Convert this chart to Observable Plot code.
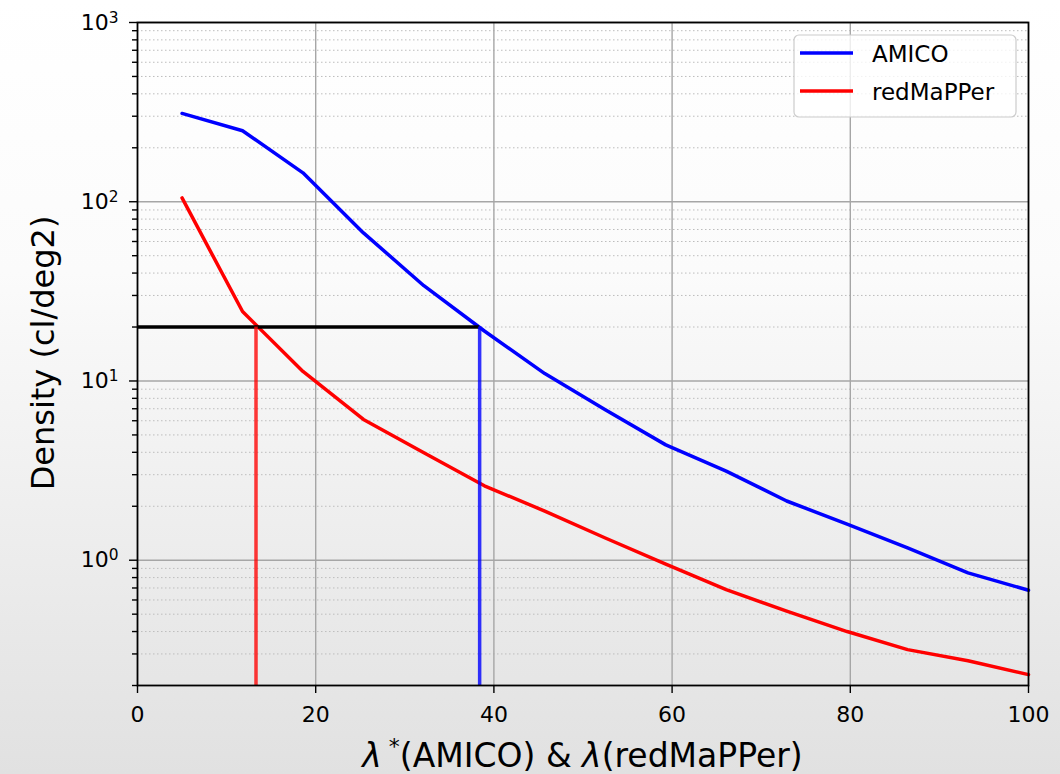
<!DOCTYPE html>
<html>
<head>
<meta charset="utf-8">
<script src="https://cdn.jsdelivr.net/npm/d3@7"></script>
<script src="https://cdn.jsdelivr.net/npm/@observablehq/plot@0.6"></script>
<style>
html, body { margin: 0; padding: 0; }
body {
  width: 1060px; height: 774px; overflow: hidden;
  background: linear-gradient(to bottom, #ffffff 0%, #fbfbfb 35%, #e1e1e1 100%);
  font-family: "DejaVu Sans", sans-serif;
}
svg { display: block; }
</style>
</head>
<body>
<div id="chart"></div>
<script>
// ---- data ----
const lambdaX = [5, 11.79, 18.57, 25.36, 32.14, 38.93, 45.71, 52.5, 59.29, 66.07, 72.86, 79.64, 86.43, 93.21, 100];
const amicoDensity = [311, 249, 145, 67, 34, 19.0, 11.0, 6.9, 4.4, 3.14, 2.14, 1.59, 1.17, 0.85, 0.68];
const redmapperDensity = [105, 24.4, 11.3, 6.1, 3.98, 2.6, 1.88, 1.33, 0.95, 0.686, 0.52, 0.40, 0.317, 0.275, 0.23];
const seriesNames = ["AMICO", "redMaPPer"];
const seriesColors = ["#0000ff", "#ff0000"];
const thresholdDensity = 20;
const amicoCut = 38.4;
const redmapperCut = 13.3;
const xTicks = [0, 20, 40, 60, 80, 100];
const xGridTicks = [20, 40, 60, 80];
const yMajorTicks = [1, 10, 100, 1000];
const yMinorTicks = [0.2, 0.3, 0.4, 0.5, 0.6, 0.7, 0.8, 0.9,
                     2, 3, 4, 5, 6, 7, 8, 9,
                     20, 30, 40, 50, 60, 70, 80, 90,
                     200, 300, 400, 500, 600, 700, 800, 900];
const yDomain = [0.2, 1000];
const xDomain = [0, 100];
const xLabelParts = ["λ", "*", "(AMICO) & ", "λ", "(redMaPPer)"];
const yLabel = "Density (cl/deg2)";

const rows = [];
lambdaX.forEach((x, i) => rows.push({x, y: amicoDensity[i], series: seriesNames[0]}));
lambdaX.forEach((x, i) => rows.push({x, y: redmapperDensity[i], series: seriesNames[1]}));

const plot = Plot.plot({
  width: 1060,
  height: 774,
  marginLeft: 137,
  marginRight: 32,
  marginTop: 22,
  marginBottom: 89,
  style: {background: "transparent", fontFamily: "DejaVu Sans, sans-serif", fontSize: "22px", color: "#000", overflow: "visible"},
  x: {domain: xDomain},
  y: {type: "log", domain: yDomain},
  color: {domain: seriesNames, range: seriesColors},
  marks: [
    Plot.gridY(yMinorTicks, {stroke: "#bdbdbd", strokeOpacity: 1, strokeWidth: 1, strokeDasharray: "1.5,2.5"}),
    Plot.gridY(yMajorTicks, {stroke: "#a6a6a6", strokeOpacity: 1, strokeWidth: 1.4}),
    Plot.gridX(xGridTicks, {stroke: "#a6a6a6", strokeOpacity: 1, strokeWidth: 1.4}),
    Plot.line(rows, {x: "x", y: "y", z: "series", stroke: "series", strokeWidth: 3.5}),
    Plot.ruleY([thresholdDensity], {x1: xDomain[0], x2: amicoCut, stroke: "#000", strokeWidth: 3.5}),
    Plot.ruleX([redmapperCut], {y1: thresholdDensity, y2: yDomain[0], stroke: seriesColors[1], strokeOpacity: 0.78, strokeWidth: 3.5}),
    Plot.ruleX([amicoCut], {y1: thresholdDensity, y2: yDomain[0], stroke: seriesColors[0], strokeOpacity: 0.8, strokeWidth: 3.5}),
    Plot.axisY(yMinorTicks, {tickSize: 5, strokeWidth: 1.4, tickFormat: () => "", label: null}),
    Plot.axisY(yMajorTicks, {tickSize: 8, tickPadding: 11, strokeWidth: 1.4, label: null,
      tickFormat: d => "10^" + Math.round(Math.log10(d))}),
    Plot.axisX(xTicks, {tickSize: 8, tickPadding: 13, strokeWidth: 1.4, label: null}),
    Plot.frame({stroke: "#000", strokeWidth: 1.8})
  ]
});

document.getElementById("chart").appendChild(plot);
const svg = d3.select(plot);

// superscript exponents on y tick labels
svg.selectAll('g[aria-label="y-axis tick label"] text').each(function() {
  const s = this.textContent;
  if (!s.includes("^")) return;
  const [base, exp] = s.split("^");
  const t = d3.select(this);
  t.text(base);
  t.append("tspan").attr("dy", "-0.45em").attr("font-size", "0.7em").text(exp);
});

// x label
const xl = svg.append("text")
  .attr("x", 582.5).attr("y", 767)
  .attr("text-anchor", "middle")
  .attr("font-size", 33)
  .attr("font-family", "DejaVu Sans, sans-serif")
  .attr("fill", "#000");
xl.append("tspan").attr("font-style", "italic").text(xLabelParts[0]);
xl.append("tspan").attr("dx", 7).attr("dy", -13).attr("font-size", 22).text(xLabelParts[1]);
xl.append("tspan").attr("dy", 13).text(xLabelParts[2]);
xl.append("tspan").attr("font-style", "italic").text(xLabelParts[3]);
xl.append("tspan").text(xLabelParts[4]);

// y label
svg.append("text")
  .attr("transform", "translate(54,353) rotate(-90)")
  .attr("text-anchor", "middle")
  .attr("font-size", 32)
  .attr("font-family", "DejaVu Sans, sans-serif")
  .attr("fill", "#000")
  .text(yLabel);

// legend
const lg = svg.append("g");
lg.append("rect").attr("x", 794).attr("y", 35).attr("width", 222).attr("height", 82)
  .attr("rx", 5).attr("fill", "#ffffff").attr("fill-opacity", 0.8)
  .attr("stroke", "#cccccc").attr("stroke-width", 1.2);
seriesNames.forEach((name, i) => {
  const cy = 53 + i * 38;
  lg.append("line").attr("x1", 800).attr("x2", 853).attr("y1", cy).attr("y2", cy)
    .attr("stroke", seriesColors[i]).attr("stroke-width", 3.5);
  lg.append("text").attr("x", 872).attr("y", cy + 9)
    .attr("text-anchor", "start")
    .attr("font-size", 23).attr("font-family", "DejaVu Sans, sans-serif")
    .attr("fill", "#000").text(name);
});
</script>
</body>
</html>
